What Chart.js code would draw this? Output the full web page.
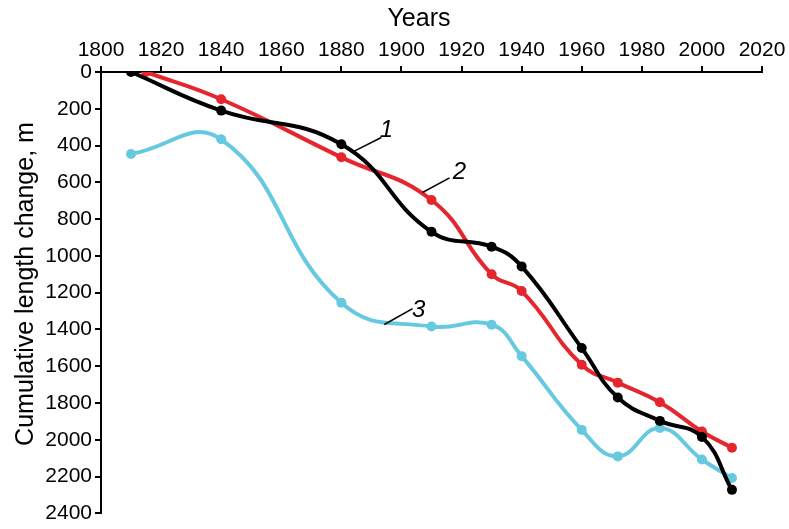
<!DOCTYPE html>
<html>
<head>
<meta charset="utf-8">
<script src="https://cdn.jsdelivr.net/npm/chart.js@4.4.1/dist/chart.umd.min.js"></script>
<style>
html,body{margin:0;padding:0;background:#fff;}
#wrap{width:789px;height:529px;}
</style>
</head>
<body>
<div id="wrap"><canvas id="c" width="789" height="529"></canvas></div>
<script>
// Series data (year, cumulative length change in m)
const years1 = [1810, 1840, 1880, 1910, 1930, 1940, 1960, 1972, 1986, 2000, 2010];
const values1 = [0, 210, 393, 869, 950, 1057, 1501, 1770, 1897, 1984, 2272];

const years2 = [1815, 1840, 1880, 1910, 1930, 1940, 1960, 1972, 1986, 2000, 2010];
const values2 = [0, 148, 464, 696, 1100, 1191, 1592, 1689, 1796, 1955, 2043];

const years3 = [1810, 1840, 1880, 1910, 1930, 1940, 1960, 1972, 1986, 2000, 2010];
const values3 = [446, 366, 1255, 1384, 1374, 1545, 1946, 2090, 1936, 2107, 2208];

const seriesLabels = ['1', '2', '3'];
const xTitle = 'Years';
const yTitle = 'Cumulative length change, m';

// curve labels: text position and leader line (in data units)
const curveLabelText = ['1', '2', '3'];
const curveLabelAt = [[1895, 317], [1919.3, 548], [1905.7, 1298]];
const leaderFrom = [[1884.3, 430], [1907, 655], [1894.3, 1373]];
const leaderTo = [[1893.3, 356], [1916, 576], [1903.7, 1287]];

const FONT = '"Liberation Sans", Arial, sans-serif';
const toXY = (xs, ys) => xs.map((x, i) => ({x: x, y: ys[i]}));

const annot = {
  id: 'annot',
  afterDatasetsDraw(chart) {
    const ctx = chart.ctx, xs = chart.scales.x, ys = chart.scales.y;
    ctx.save();
    ctx.strokeStyle = '#000';
    ctx.lineWidth = 1.5;
    for (let i = 0; i < curveLabelText.length; i++) {
      ctx.beginPath();
      ctx.moveTo(xs.getPixelForValue(leaderFrom[i][0]), ys.getPixelForValue(leaderFrom[i][1]));
      ctx.lineTo(xs.getPixelForValue(leaderTo[i][0]), ys.getPixelForValue(leaderTo[i][1]));
      ctx.stroke();
      ctx.fillStyle = '#000';
      ctx.font = 'italic 24px ' + FONT;
      ctx.textAlign = 'center';
      ctx.textBaseline = 'middle';
      ctx.fillText(curveLabelText[i], xs.getPixelForValue(curveLabelAt[i][0]), ys.getPixelForValue(curveLabelAt[i][1]));
    }
    // axis titles
    ctx.font = '25px ' + FONT;
    ctx.fillStyle = '#000';
    ctx.textAlign = 'center';
    ctx.textBaseline = 'middle';
    ctx.fillText(xTitle, 419, 19);
    ctx.translate(26, 284);
    ctx.rotate(-Math.PI / 2);
    ctx.fillText(yTitle, 0, 0);
    ctx.restore();
  }
};

const common = {fill: false, borderWidth: 4, pointRadius: 5, pointHoverRadius: 5, tension: 0.45, pointBorderWidth: 0};

new Chart(document.getElementById('c'), {
  type: 'line',
  data: {
    datasets: [
      Object.assign({label: seriesLabels[0], data: toXY(years1, values1), borderColor: '#000000', backgroundColor: '#000000'}, common),
      Object.assign({label: seriesLabels[1], data: toXY(years2, values2), borderColor: '#e5262e', backgroundColor: '#e5262e'}, common),
      Object.assign({label: seriesLabels[2], data: toXY(years3, values3), borderColor: '#66c9e0', backgroundColor: '#66c9e0'}, common)
    ]
  },
  options: {
    responsive: false,
    animation: false,
    devicePixelRatio: 1,
    layout: {padding: {left: 0, top: 0, right: 27, bottom: 9}},
    plugins: {legend: {display: false}, tooltip: {enabled: false}},
    scales: {
      x: {
        type: 'linear', position: 'top', min: 1800, max: 2020,
        afterFit: s => { s.height = 72; },
        ticks: {stepSize: 20, color: '#000', font: {family: FONT, size: 21}, padding: 3, maxRotation: 0, autoSkip: false, callback: v => String(v)},
        grid: {display: true, drawOnChartArea: false, drawTicks: true, tickLength: 6, color: '#000', lineWidth: 2},
        border: {display: true, color: '#000', width: 2}
      },
      y: {
        type: 'linear', reverse: true, min: 0, max: 2400,
        afterFit: s => { s.width = 101; },
        ticks: {stepSize: 200, color: '#000', font: {family: FONT, size: 21}, padding: 3, autoSkip: false, callback: v => String(v)},
        grid: {display: true, drawOnChartArea: false, drawTicks: true, tickLength: 6, color: '#000', lineWidth: 2},
        border: {display: true, color: '#000', width: 2}
      }
    }
  },
  plugins: [annot]
});
</script>
</body>
</html>
